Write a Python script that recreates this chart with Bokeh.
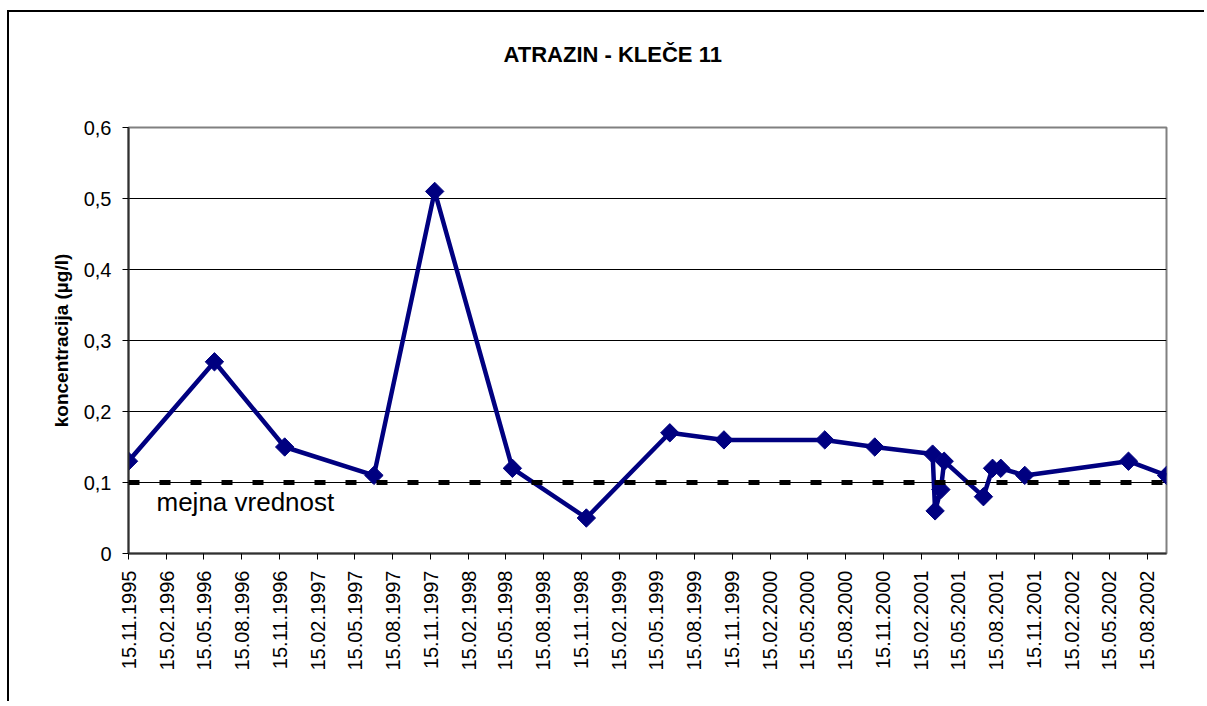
import math
from datetime import datetime
from bokeh.plotting import figure
from bokeh.models import FixedTicker, Span, Label, Title, DatetimeTickFormatter, Range1d
from bokeh.embed import file_html
from bokeh.resources import INLINE

# ---- data ----
dates = ["1995-11-15", "1996-06-10", "1996-11-27", "1997-07-01", "1997-11-25",
         "1998-06-01", "1998-11-27", "1999-06-17", "1999-10-26", "2000-06-26",
         "2000-10-25", "2001-03-14", "2001-03-20", "2001-04-03", "2001-04-11",
         "2001-07-15", "2001-08-06", "2001-08-26", "2001-10-23", "2002-07-01",
         "2002-10-01"]
values = [0.13, 0.27, 0.15, 0.11, 0.51, 0.12, 0.05, 0.17, 0.16, 0.16,
          0.15, 0.14, 0.06, 0.09, 0.13, 0.08, 0.12, 0.12, 0.11, 0.13, 0.11]
limit_value = 0.1
limit_label = "mejna vrednost"
x_tick_labels = ["15.11.1995", "15.02.1996", "15.05.1996", "15.08.1996", "15.11.1996",
                 "15.02.1997", "15.05.1997", "15.08.1997", "15.11.1997", "15.02.1998",
                 "15.05.1998", "15.08.1998", "15.11.1998", "15.02.1999", "15.05.1999",
                 "15.08.1999", "15.11.1999", "15.02.2000", "15.05.2000", "15.08.2000",
                 "15.11.2000", "15.02.2001", "15.05.2001", "15.08.2001", "15.11.2001",
                 "15.02.2002", "15.05.2002", "15.08.2002"]
y_ticks = [0, 0.1, 0.2, 0.3, 0.4, 0.5, 0.6]
y_tick_labels = ["0", "0,1", "0,2", "0,3", "0,4", "0,5", "0,6"]
title_text = "ATRAZIN - KLEČE 11"
y_label = "koncentracija (µg/l)"

FONT = "Liberation Sans"
NAVY = "#000080"

x = [datetime.strptime(d, "%Y-%m-%d") for d in dates]
def to_ms(dt):
    return (dt - datetime(1970, 1, 1)).total_seconds() * 1000.0
tick_ms = [to_ms(datetime.strptime(t, "%d.%m.%Y")) for t in x_tick_labels]

p = figure(x_axis_type="datetime", output_backend="svg", toolbar_location=None,
           frame_width=1038, frame_height=426,
           min_border_left=119, min_border_right=38, min_border_top=115, min_border_bottom=148,
           x_range=Range1d(x[0], x[-1]), y_range=Range1d(0, 0.6),
           background_fill_color="white", border_fill_color="white")
p.styles = {"border-top": "2px solid black", "border-left": "2px solid black",
            "margin-left": "7px", "margin-top": "10px"}

p.outline_line_color = "#808080"
p.outline_line_width = 2

# title, with an empty spacer panel between it and the plot frame
p.title = Title(text=title_text, align="left", offset=375, standoff=16,
                text_font=FONT, text_font_style="bold", text_font_size="22px", text_color="black")
p.add_layout(Title(text=" ", text_font_size="1px", standoff=50), "above")

# grid
p.xgrid.grid_line_color = None
p.ygrid.grid_line_color = "black"
p.ygrid.grid_line_width = 1
p.ygrid.ticker = FixedTicker(ticks=y_ticks[1:-1])

# axes
p.xaxis.ticker = FixedTicker(ticks=tick_ms)
p.xaxis.formatter = DatetimeTickFormatter(days="%d.%m.%Y", months="%d.%m.%Y", years="%d.%m.%Y",
                                          hours="%d.%m.%Y", minutes="%d.%m.%Y")
p.xaxis.major_label_orientation = math.pi / 2
p.yaxis.ticker = FixedTicker(ticks=y_ticks)
p.yaxis.major_label_overrides = {t: l for t, l in zip(y_ticks, y_tick_labels)}
p.yaxis.axis_label = y_label
for ax in (p.xaxis[0], p.yaxis[0]):
    ax.axis_line_color = "#303030"
    ax.axis_line_width = 2
    ax.major_tick_line_color = "black"
    ax.major_tick_line_width = 1
    ax.major_tick_out = 6
    ax.major_tick_in = 0
    ax.minor_tick_line_color = None
    ax.major_label_text_font = FONT
    ax.major_label_text_font_size = "20px"
    ax.major_label_text_color = "black"
    ax.major_label_standoff = 11
p.yaxis.axis_label_text_font = FONT
p.yaxis.axis_label_text_font_style = "bold"
p.yaxis.axis_label_text_font_size = "19px"
p.yaxis.axis_label_text_color = "black"
p.yaxis.axis_label_standoff = 9

# limit line
p.add_layout(Span(location=limit_value, dimension="width", line_color="black",
                  line_width=5, line_dash="11 20"))
p.add_layout(Label(x=x[0], y=limit_value, x_offset=28, y_offset=-4, text=limit_label,
                   text_baseline="top", text_font=FONT, text_font_size="26px", text_color="black"))

# data
p.line(x, values, line_color=NAVY, line_width=4.5)
p.scatter(x, values, marker="square", angle=math.pi / 4, size=13,
          fill_color=NAVY, line_color=NAVY)

open("out.html", "w").write(file_html(p, INLINE))
